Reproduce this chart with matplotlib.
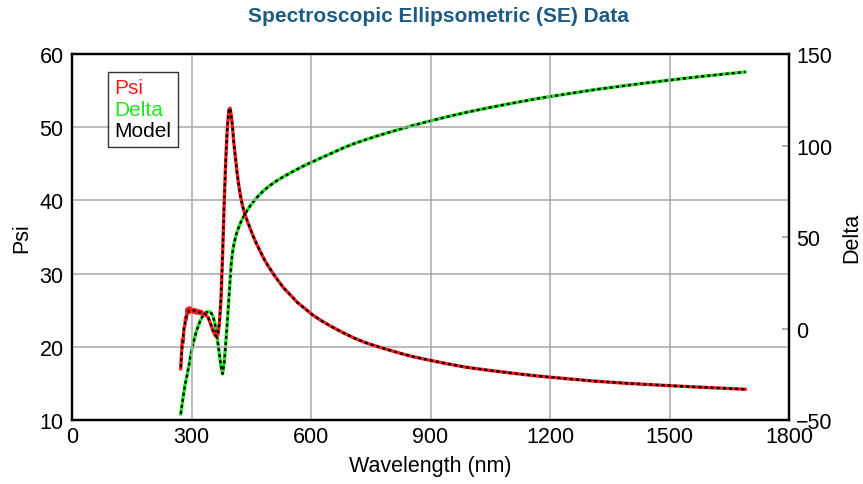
import matplotlib
matplotlib.use("Agg")
import matplotlib.pyplot as plt
from matplotlib.lines import Line2D

plt.rcParams['font.family'] = ['Liberation Sans', 'DejaVu Sans']

wl = [273, 275, 277, 279, 281, 283, 285, 287, 289, 291,
      293, 295, 297, 299, 302, 305, 308, 311, 314, 317,
      320, 323, 326, 330, 334, 338, 342, 346, 350, 354,
      358, 362, 366, 370, 374, 378, 382, 386, 390, 394,
      397, 400, 403, 406, 410, 414, 418, 423, 428, 434,
      440, 447, 455, 463, 472, 482, 493, 505, 518, 532,
      548, 565, 583, 603, 625, 650, 678, 708, 740, 775,
      812, 852, 895, 940, 990, 1045, 1105, 1170, 1240, 1315,
      1395, 1480, 1570, 1690]

psi_model = [17.2, 18.8, 20.3, 21.4, 22.3, 23.0, 23.6, 24.1, 24.5, 24.7,
             24.9, 25.0, 25.0, 25.0, 25.0, 25.0, 24.9, 24.9, 24.8, 24.8,
             24.7, 24.7, 24.6, 24.6, 24.5, 24.3, 24.0, 23.4, 22.8, 22.2,
             21.7, 21.4, 21.6, 23.2, 26.5, 32.5, 39.5, 45.5, 50.0, 52.4,
             52.6, 51.5, 50.0, 48.0, 46.0, 44.0, 42.3, 40.6, 39.3, 38.1,
             37.2, 36.2, 35.1, 34.1, 33.1, 32.0, 31.0, 30.0, 29.0, 28.0,
             27.1, 26.1, 25.3, 24.4, 23.6, 22.8, 22.0, 21.2, 20.5, 19.9,
             19.3, 18.7, 18.2, 17.7, 17.2, 16.8, 16.4, 16.0, 15.65, 15.3,
             15.0, 14.75, 14.5, 14.2]

psi_data = [17.0, 19.2, 21.0, 20.6, 22.6, 22.8, 24.0, 23.7, 25.2, 24.5,
            25.3, 24.7, 25.3, 24.8, 25.1, 24.7, 25.1, 24.6, 25.0, 24.6,
            24.9, 24.5, 24.8, 24.4, 24.6, 24.2, 24.0, 23.4, 22.8, 22.2,
            21.7, 21.4, 21.6, 23.2, 26.5, 32.5, 39.5, 45.5, 50.0, 52.4,
            52.6, 51.5, 50.0, 48.0, 46.0, 44.0, 42.3, 40.6, 39.3, 38.1,
            37.2, 36.2, 35.1, 34.1, 33.1, 32.0, 31.0, 30.0, 29.0, 28.0,
            27.1, 26.1, 25.3, 24.4, 23.6, 22.8, 22.0, 21.2, 20.5, 19.9,
            19.3, 18.7, 18.2, 17.7, 17.2, 16.8, 16.4, 16.0, 15.65, 15.3,
            15.0, 14.75, 14.5, 14.2]

delta = [-46.7, -43.5, -40.5, -37.5, -34.5, -32.0, -29.5, -27.5, -25.5, -23.0,
         -21.0, -18.5, -16.0, -13.5, -10.5, -7.5, -5.0, -2.5, -0.5, 1.5,
         3.3, 4.7, 6.0, 7.3, 8.3, 8.9, 9.2, 9.1, 8.3, 6.5,
         3.5, -1.5, -7.5, -14.0, -20.5, -24.8, -19.0, -8.0, 4.0, 17.0,
         27.0, 36.0, 41.5, 45.5, 49.5, 52.5, 55.0, 57.7, 60.0, 62.4,
         64.6, 66.9, 69.2, 71.3, 73.4, 75.5, 77.5, 79.4, 81.3, 83.1,
         85.0, 87.0, 89.0, 91.0, 93.2, 95.6, 98.4, 101.0, 103.4, 105.8,
         108.2, 110.7, 113.2, 115.6, 118.1, 120.6, 123.1, 125.7, 128.1, 130.6,
         132.9, 135.2, 137.5, 140.2]

x_ticks = [0, 300, 600, 900, 1200, 1500, 1800]
psi_ticks = [10, 20, 30, 40, 50, 60]
delta_ticks = [-50, 0, 50, 100, 150]

RED = '#ff1a1a'
GREEN = '#1ee61e'

fig = plt.figure(figsize=(8.63, 4.85), dpi=100)
ax = fig.add_axes([72/863, 1-421/485, (789-72)/863, (421-55)/485])
ax2 = ax.twinx()

ax.set_xlim(0, 1800)
ax.set_ylim(10, 60)
ax2.set_ylim(-50, 150)
ax.set_xticks(x_ticks)
ax.set_yticks(psi_ticks)
ax2.set_yticks(delta_ticks)

ax.grid(True, color='#a8a8a8', linewidth=1.1)
ax.set_axisbelow(True)

ax.tick_params(axis='both', length=0, labelsize=15.5, pad=6)
ax.tick_params(axis='x', pad=4)
ax2.tick_params(axis='y', direction='in', length=5, width=1.2, color='#a0a0a0', labelsize=15.5, pad=5)

for a in (ax, ax2):
    for s in a.spines.values():
        s.set_linewidth(1.6)
        s.set_color('black')

ax2.plot(wl, delta, color=GREEN, lw=2.4, zorder=3)
ax2.plot(wl, delta, color='black', lw=1.7, dashes=(1.3, 1.3), zorder=4)
ax.set_zorder(ax2.get_zorder() + 1)
ax.patch.set_visible(False)
ax2.grid(False)
ax.plot(wl, psi_data, color=RED, lw=2.4, zorder=3)
ax.plot(wl, psi_model, color='black', lw=1.7, dashes=(1.3, 1.3), zorder=4)

ax.set_xlabel('Wavelength (nm)', fontsize=15.5, labelpad=6)
ax.set_ylabel('Psi', fontsize=15.5, labelpad=5)
ax2.set_ylabel('Delta', fontsize=15.5, labelpad=6)

fig.text(0.508, 1-17/485, 'Spectroscopic Ellipsometric (SE) Data', ha='center', va='center',
         fontsize=15, fontweight='bold', color='#1d5b87')

handles = [Line2D([], [], linestyle='none') for _ in range(3)]
leg = ax.legend(handles, ['Psi', 'Delta', 'Model'], loc='upper left',
                bbox_to_anchor=((108-72)/717, 1-(73-55)/366),
                handlelength=0, handletextpad=0, fontsize=15,
                labelcolor=[RED, GREEN, 'black'], frameon=True, fancybox=False,
                borderpad=0.3, labelspacing=0.12, borderaxespad=0)
leg.get_frame().set_edgecolor('black')
leg.get_frame().set_linewidth(1.0)

fig.savefig('out.png', dpi=100)
